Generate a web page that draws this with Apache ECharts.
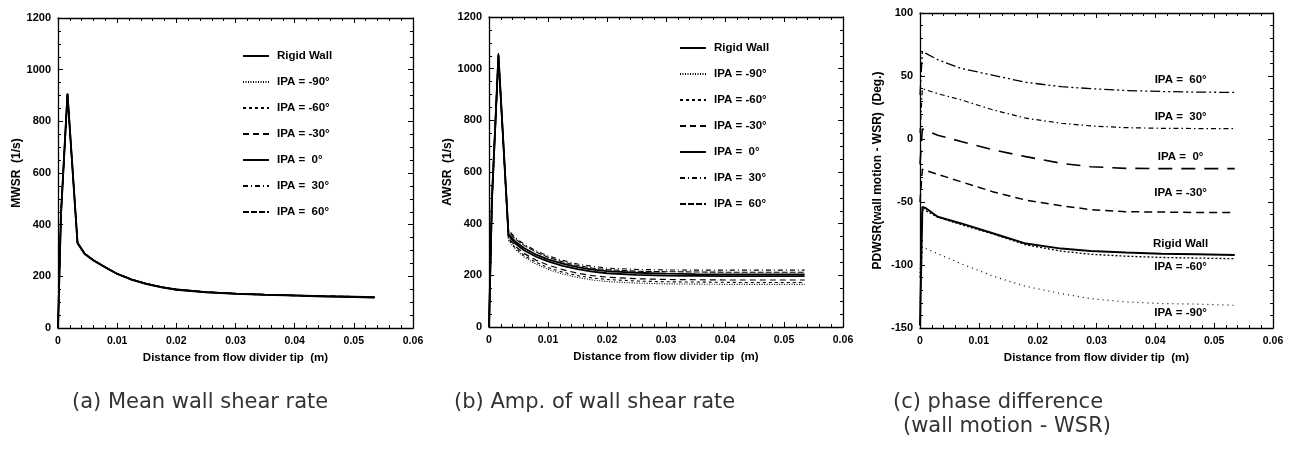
<!DOCTYPE html>
<html><head><meta charset="utf-8">
<script src="https://cdn.jsdelivr.net/npm/echarts@6/dist/echarts.min.js"></script>
<style>html,body{margin:0;padding:0;background:#fff}#c{width:1299px;height:464px}</style>
</head><body><div id="c"></div>
<script>
// ---------- data ----------
const seriesNames = ['Rigid Wall', 'IPA = -90°', 'IPA = -60°', 'IPA = -30°', 'IPA =  0°', 'IPA =  30°', 'IPA =  60°'];
const xTickLabels = ['0', '0.01', '0.02', '0.03', '0.04', '0.05', '0.06'];

// panels (a) and (b): distance from flow divider tip (m)
const distAB = [0, 0.0005, 0.0016, 0.0033, 0.0045, 0.006, 0.008, 0.010, 0.0125, 0.015, 0.0175, 0.02, 0.025, 0.03, 0.035, 0.04, 0.045, 0.05, 0.0535];

// (a) mean wall shear rate (1/s)
const mwsrRigid = [0, 440, 905, 330, 288, 262, 235, 210, 187, 171, 158, 149, 139, 133, 129, 126, 123, 121, 119];
const mwsrM90   = [0, 445, 900, 332, 290, 263, 236, 211, 188, 172, 159, 150, 140, 134, 129, 126, 123, 121, 119];
const mwsrM60   = [0, 442, 902, 331, 289, 262, 236, 210, 188, 171, 159, 150, 139, 133, 129, 126, 123, 121, 119];
const mwsrM30   = [0, 438, 906, 329, 287, 261, 235, 209, 187, 170, 158, 149, 139, 133, 128, 125, 123, 121, 118];
const mwsr0     = [0, 436, 908, 328, 286, 261, 234, 209, 186, 170, 157, 148, 138, 132, 128, 125, 122, 120, 118];
const mwsr30    = [0, 434, 906, 329, 287, 262, 235, 210, 187, 171, 158, 148, 139, 133, 129, 126, 123, 121, 119];
const mwsr60    = [0, 437, 903, 331, 289, 263, 236, 211, 188, 172, 159, 150, 140, 134, 130, 127, 124, 122, 120];

// (b) amplitude of wall shear rate (1/s)
const awsrRigid = [0, 500, 1055, 360, 330, 305, 280, 262, 245, 232, 222, 216, 210, 207, 205, 204, 204, 204, 204];
const awsrM90   = [0, 510, 1062, 335, 300, 270, 243, 223, 205, 192, 182, 176, 170, 167, 166, 165, 165, 165, 165];
const awsrM60   = [0, 505, 1060, 340, 305, 276, 250, 230, 212, 199, 190, 184, 178, 175, 174, 173, 172, 172, 172];
const awsrM30   = [0, 500, 1058, 345, 312, 284, 258, 240, 222, 208, 199, 193, 187, 184, 183, 182, 182, 182, 182];
const awsr0     = [0, 490, 1050, 355, 322, 296, 272, 254, 237, 224, 214, 208, 202, 199, 198, 197, 197, 197, 197];
const awsr30    = [0, 480, 1040, 375, 345, 320, 295, 275, 258, 244, 235, 228, 223, 221, 220, 220, 220, 220, 220];
const awsr60    = [0, 470, 1030, 370, 340, 315, 290, 270, 252, 238, 228, 222, 216, 214, 213, 212, 212, 212, 212];

// (c) phase difference (deg)
const distC   = [0, 0.0004, 0.001, 0.003, 0.007, 0.0125, 0.018, 0.024, 0.029, 0.035, 0.041, 0.047, 0.0535];
const pdRigid = [-148, -54, -55, -61.7, -67, -75, -83, -87, -88.8, -90, -91, -91.5, -92];
const pdM90   = [-130, -85.5, -87, -91, -99, -109, -117, -122.7, -126.7, -129.3, -130.6, -131, -132];
const pdM60   = [-110, -56, -57, -62, -68, -75.5, -84, -89, -91.5, -93, -94, -94.5, -95];
const pdM30   = [-50, -24, -25, -28, -34, -42, -48.5, -53, -56, -57.7, -58, -58.3, -58.3];
const pd0     = [-20, 8, 7, 3, -2, -8.7, -14, -19.3, -22, -23.3, -23.5, -23.5, -23.5];
const pd30    = [5, 40, 39, 36, 31, 23, 16.5, 12.5, 10.4, 9, 8.5, 8.3, 8.3];
const pd60    = [35, 69, 68, 63, 56, 50.5, 45, 41.5, 40, 38.5, 37.7, 37.2, 37];
// text labels in (c), anchored at data coordinates
const pdLabelX = [0.0443, 0.0443, 0.0443, 0.0443, 0.0443, 0.0443, 0.0443];
const pdLabelY = [-83.3, -138, -101.6, -42.9, -14.3, 17.5, 46.8];

// ---------- styles ----------
const styleAB = [
  {type: 'solid', width: 1.8},
  {type: [1, 1.5], width: 1.1},
  {type: [3, 3], width: 1.1},
  {type: [6, 4], width: 1.2},
  {type: 'solid', width: 1.8},
  {type: [5, 3, 1, 3], width: 1.1},
  {type: [6, 2], width: 1.1}
];
const styleC = [
  {type: 'solid', width: 2},
  {type: [1, 4], width: 1.2},
  {type: [2, 2], width: 1.3},
  {type: [8, 5], width: 1.5},
  {type: [14, 9], width: 1.6},
  {type: [5, 3, 1.5, 3], width: 1.2},
  {type: [10, 3, 2, 3, 2, 3], width: 1.3}
];

const mwsrSets = [mwsrRigid, mwsrM90, mwsrM60, mwsrM30, mwsr0, mwsr30, mwsr60];
const awsrSets = [awsrRigid, awsrM90, awsrM60, awsrM30, awsr0, awsr30, awsr60];
const pdSets = [pdRigid, pdM90, pdM60, pdM30, pd0, pd30, pd60];

const pair = (xs, ys) => xs.map((x, i) => [x, ys[i]]).filter(p => p[1] !== null);

const FONT = 'Liberation Sans';
const grids = [
  {left: 58, top: 18, width: 355, height: 310},
  {left: 489, top: 17, width: 354, height: 310},
  {left: 920, top: 13, width: 353, height: 315}
];
const yRanges = [
  {min: 0, max: 1200, interval: 200, name: 'MWSR  (1/s)'},
  {min: 0, max: 1200, interval: 200, name: 'AWSR  (1/s)'},
  {min: -150, max: 100, interval: 50, name: 'PDWSR(wall motion - WSR)  (Deg.)'}
];

const xAxes = [], yAxes = [];
grids.forEach((g, i) => {
  const common = {
    gridIndex: i, type: 'value', min: 0, max: 0.06, interval: 0.01,
    axisLine: {show: true, onZero: false, lineStyle: {color: '#000', width: 1.3}},
    axisTick: {show: true, inside: true, length: 5, lineStyle: {color: '#000'}},
    minorTick: {show: true, splitNumber: 5, length: 3, lineStyle: {color: '#000'}},
    splitLine: {show: false}
  };
  xAxes.push(Object.assign({}, common, {
    position: 'bottom',
    axisLabel: {margin: 8, color: '#000', fontFamily: FONT, fontWeight: 'bold', fontSize: 10.5,
      formatter: v => xTickLabels[Math.round(v * 100)]},
    name: 'Distance from flow divider tip  (m)', nameLocation: 'middle', nameGap: 24,
    nameTextStyle: {color: '#000', fontFamily: FONT, fontWeight: 'bold', fontSize: 11.5}
  }));
  xAxes.push(Object.assign({}, common, {position: 'top', axisLabel: {show: false}}));
  const r = yRanges[i];
  const ycommon = {
    gridIndex: i, type: 'value', min: r.min, max: r.max, interval: r.interval,
    axisLine: {show: true, onZero: false, lineStyle: {color: '#000', width: 1.3}},
    axisTick: {show: true, inside: true, length: 5, lineStyle: {color: '#000'}},
    minorTick: {show: true, splitNumber: i === 2 ? 5 : 4, length: 3, lineStyle: {color: '#000'}},
    splitLine: {show: false}
  };
  yAxes.push(Object.assign({}, ycommon, {
    position: 'left',
    axisLabel: {margin: 7, color: '#000', fontFamily: FONT, fontWeight: 'bold', fontSize: 11,
      formatter: v => String(v)},
    name: r.name, nameLocation: 'middle', nameGap: i === 2 ? 36 : 34,
    nameTextStyle: {color: '#000', fontFamily: FONT, fontWeight: 'bold', fontSize: 12}
  }));
  yAxes.push(Object.assign({}, ycommon, {position: 'right', axisLabel: {show: false}}));
});

const series = [];
const baseSeries = {type: 'line', showSymbol: false, symbol: 'none', animation: false,
  itemStyle: {color: '#000'}, emphasis: {disabled: true}};
mwsrSets.forEach((d, k) => series.push(Object.assign({}, baseSeries, {
  name: seriesNames[k], xAxisIndex: 0, yAxisIndex: 0,
  data: pair(distAB, d),
  lineStyle: Object.assign({color: '#000'}, styleAB[k]), z: 10 - k
})));
awsrSets.forEach((d, k) => series.push(Object.assign({}, baseSeries, {
  name: seriesNames[k], xAxisIndex: 2, yAxisIndex: 2,
  data: pair(distAB, d),
  lineStyle: Object.assign({color: '#000'}, styleAB[k]), z: 10 - k
})));
pdSets.forEach((d, k) => series.push(Object.assign({}, baseSeries, {
  name: 'PD ' + seriesNames[k], xAxisIndex: 4, yAxisIndex: 4,
  data: pair(distC, d),
  lineStyle: Object.assign({color: '#000'}, styleC[k]),
  markPoint: {
    symbol: 'circle', symbolSize: 0, animation: false, silent: true,
    data: [{coord: [pdLabelX[k], pdLabelY[k]], value: seriesNames[k]}],
    label: {show: true, position: 'inside', formatter: () => seriesNames[k],
      color: '#000', fontFamily: FONT, fontWeight: 'bold', fontSize: 11.5}
  }
})));

const legendCommon = {
  orient: 'vertical', itemWidth: 26, itemHeight: 12, itemGap: 14,
  selectedMode: false,
  itemStyle: {opacity: 0, borderWidth: 0},
  textStyle: {color: '#000', fontFamily: FONT, fontWeight: 'bold', fontSize: 11.5, padding: [0, 0, 0, 3]},
  data: seriesNames
};

const captionStyle = {fill: '#333', font: '21px "DejaVu Sans"'};
const option = {
  backgroundColor: '#fff',
  animation: false,
  grid: grids.map(g => Object.assign({show: false, containLabel: false}, g)),
  xAxis: xAxes,
  yAxis: yAxes,
  legend: [
    Object.assign({}, legendCommon, {left: 237, top: 45}),
    Object.assign({}, legendCommon, {left: 674, top: 37})
  ],
  series: series,
  graphic: [
    {type: 'text', left: 72, top: 392, style: Object.assign({text: '(a) Mean wall shear rate'}, captionStyle)},
    {type: 'text', left: 454, top: 392, style: Object.assign({text: '(b) Amp. of wall shear rate'}, captionStyle)},
    {type: 'text', left: 893, top: 392, style: Object.assign({text: '(c) phase difference'}, captionStyle)},
    {type: 'text', left: 903, top: 416, style: Object.assign({text: '(wall motion - WSR)'}, captionStyle)}
  ]
};
const chart = echarts.init(document.getElementById('c'), null, {renderer: 'canvas'});
chart.setOption(option);
</script></body></html>
